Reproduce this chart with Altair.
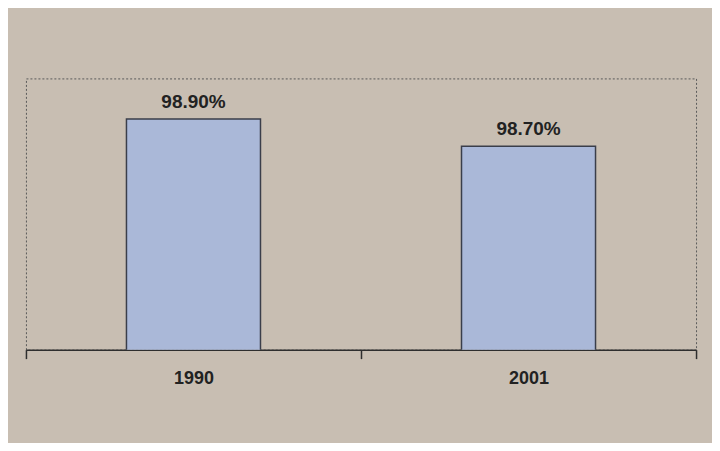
import altair as alt
import pandas as pd

years = ["1990", "2001"]
values = [98.90, 98.70]
labels = ["98.90%", "98.70%"]

df = pd.DataFrame({"year": years, "value": values, "label": labels})

x_enc = alt.X(
    "year:N",
    sort=years,
    title=None,
    scale=alt.Scale(paddingInner=0, paddingOuter=0),
    axis=alt.Axis(
        labelAngle=0,
        labelFont="Liberation Sans",
        labelFontSize=18,
        labelFontWeight="bold",
        labelColor="#222222",
        labelPadding=11,
        domainColor="#2e2e2e",
        domainWidth=1.5,
        tickColor="#2e2e2e",
        tickWidth=1.5,
        tickSize=9,
        tickBand="extent",
        grid=False,
    ),
)
y_scale = alt.Scale(domain=[97.2, 99.2], zero=False, nice=False)

bars = alt.Chart(df).mark_bar(
    fill="#aab8d8", stroke="#3a3e4a", strokeWidth=1.5, clip=True,
    width={"band": 0.4}
).encode(
    x=x_enc,
    y=alt.Y("value:Q", scale=y_scale, axis=None),
)

text = alt.Chart(df).mark_text(
    font="Liberation Sans", fontSize=19, fontWeight="bold",
    color="#222222", baseline="alphabetic", dy=-11
).encode(
    x=alt.X("year:N", sort=years),
    y=alt.Y("value:Q", scale=y_scale),
    text="label:N",
)

chart = alt.layer(bars, text).properties(
    width=672, height=272,
    background="#c8beb2",
    padding={"left": 17, "top": 70, "right": 15, "bottom": 55},
).configure_view(
    stroke="#5a5a5a", strokeWidth=1, strokeDash=[2, 2], fill="#c8beb2"
)

chart.save("out.html", embed_options={"renderer": "svg", "actions": False})
